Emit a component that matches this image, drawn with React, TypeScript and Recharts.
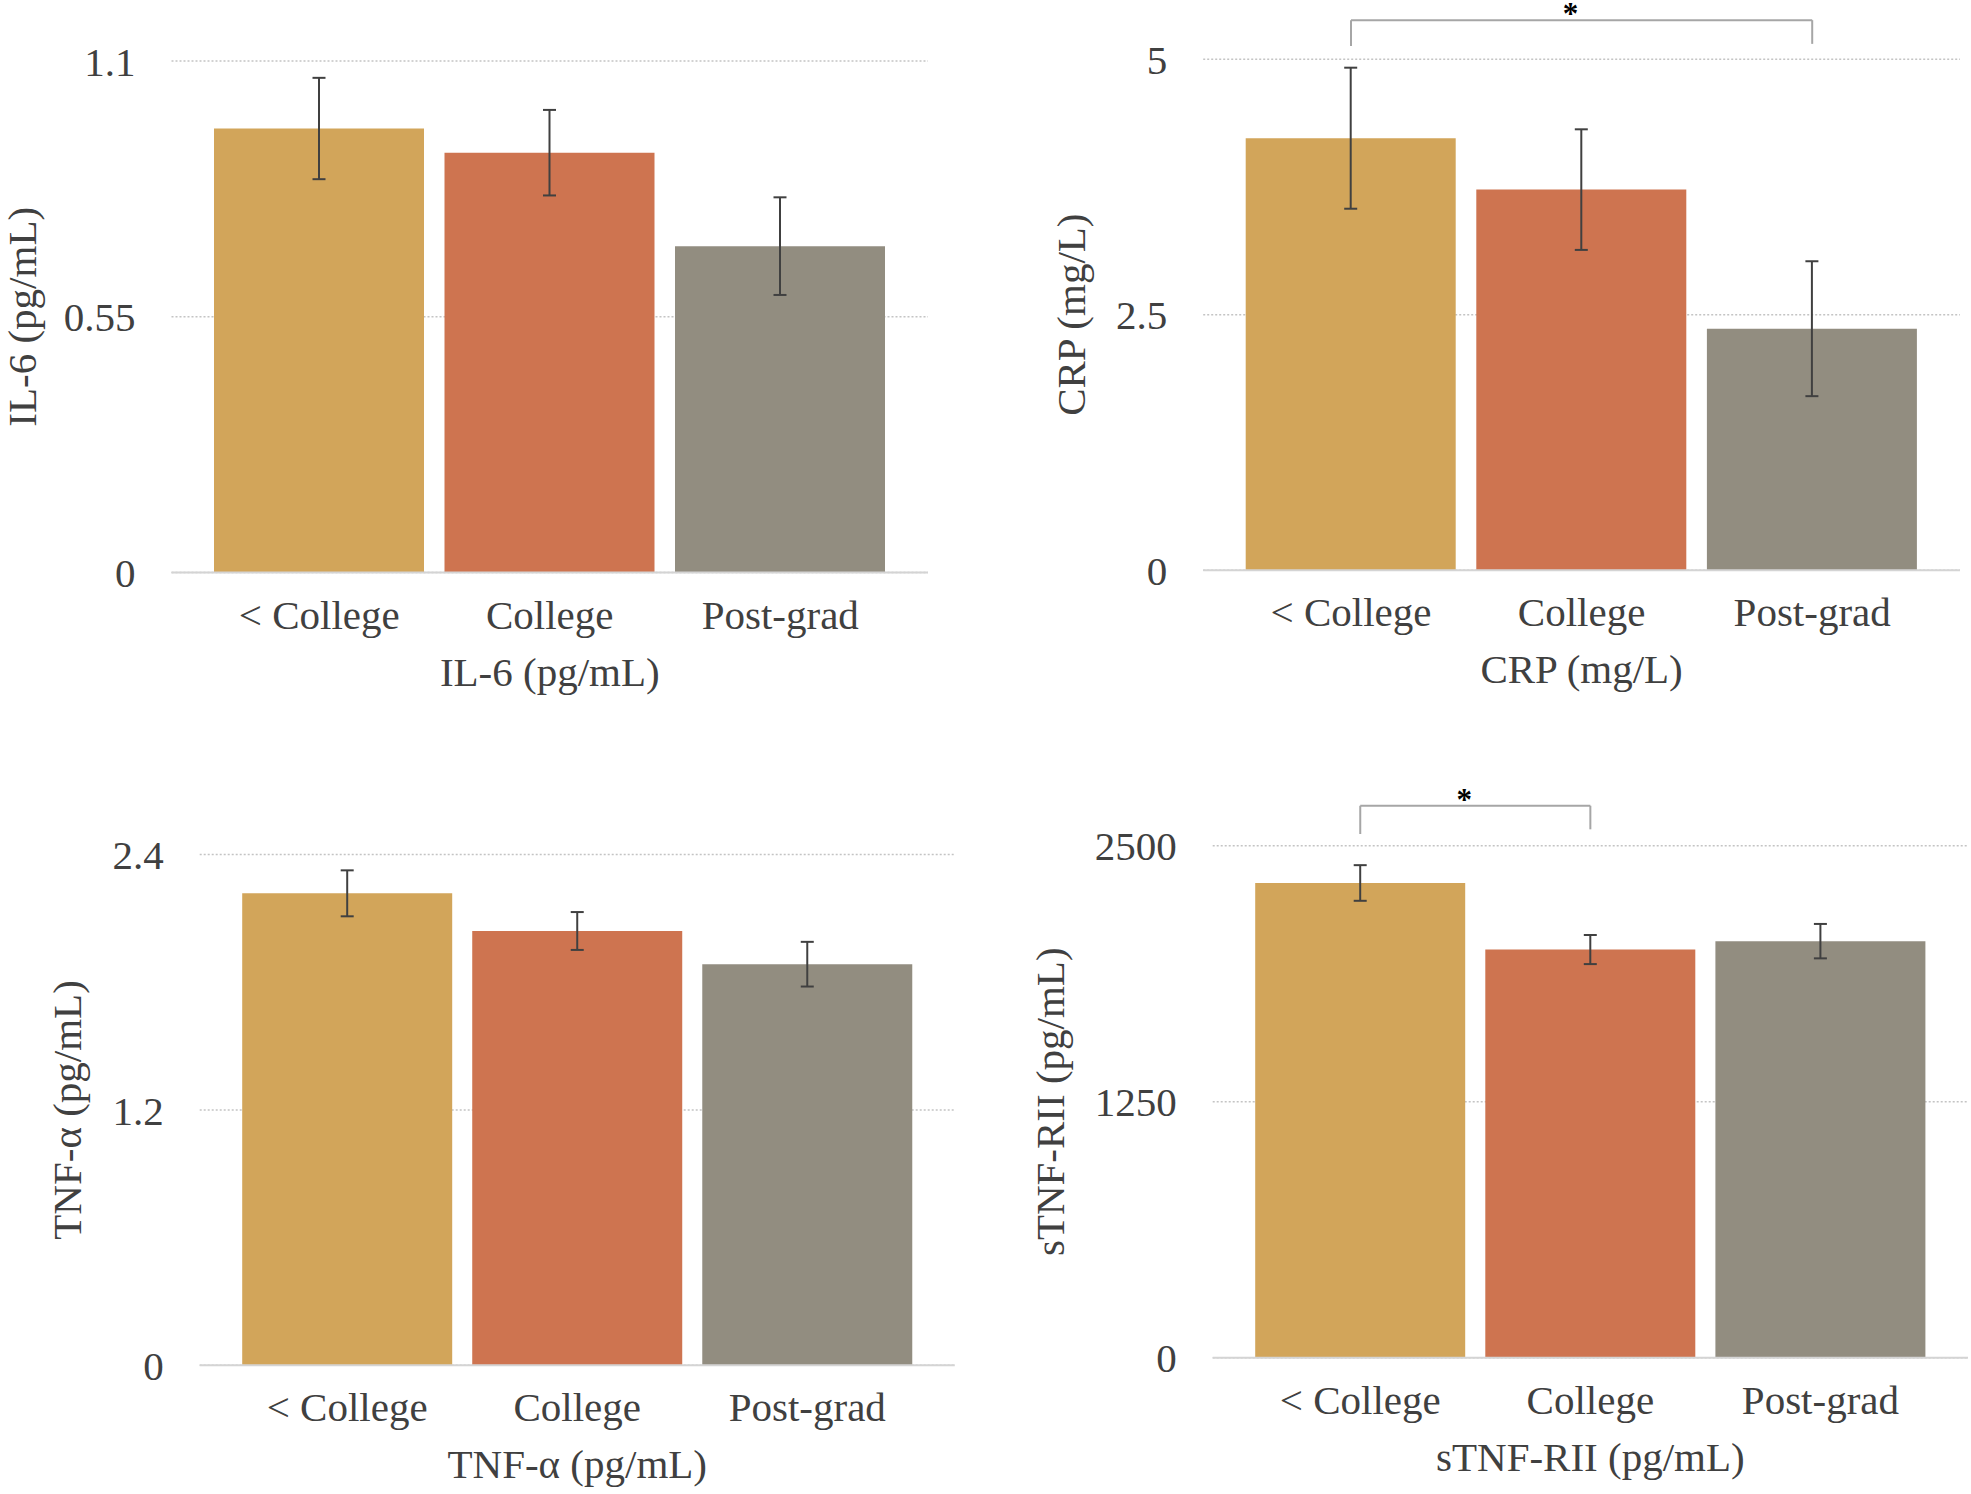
import React from 'react';
import { BarChart, Bar, XAxis, YAxis, CartesianGrid, ErrorBar, Cell, ReferenceLine, Label } from 'recharts';

const categories = ['< College', 'College', 'Post-grad'];
const barColors = ['#D2A55A', '#CE7450', '#928D80'];

const il6Means = [0.955, 0.903, 0.702];
const il6Errors = [0.109, 0.092, 0.105];
const il6Ticks = [0, 0.55, 1.1];

const crpMeans = [4.227, 3.724, 2.363];
const crpErrors = [0.69, 0.59, 0.66];
const crpTicks = [0, 2.5, 5];

const tnfMeans = [2.218, 2.041, 1.885];
const tnfErrors = [0.108, 0.089, 0.105];
const tnfTicks = [0, 1.2, 2.4];

const stnfMeans = [2318, 1993, 2034];
const stnfErrors = [87, 71, 84];
const stnfTicks = [0, 1250, 2500];

const crpBracket = { from: '< College', to: 'Post-grad', top: 5.382, leftEnd: 5.13, rightEnd: 5.15 };
const stnfBracket = { from: '< College', to: 'College', top: 2695, leftEnd: 2557, rightEnd: 2580 };

const FONT = "'Liberation Serif', 'Times New Roman', serif";
const TEXT = '#404040';
const FS = 41;

const StarLabel = (props: any) => {
  const vb = props.viewBox || {};
  const cx = (vb.x || 0) + (vb.width || 0) / 2 - 11;
  return (
    <text x={cx} y={(vb.y || 0) + 4} textAnchor="middle" fontFamily={FONT} fontSize={31} fontWeight="bold" fill="#000">
      *
    </text>
  );
};

type Box = { left: number; top: number; w: number; h: number };
type Plot = { l: number; r: number; t: number; b: number };

function Panel(props: {
  box: Box;
  plot: Plot;
  title: string;
  means: number[];
  errors: number[];
  ticks: number[];
  yLabelOffset: number;
  bracket?: { from: string; to: string; top: number; leftEnd: number; rightEnd: number };
}) {
  const { box, plot, title, means, errors, ticks, yLabelOffset, bracket } = props;
  const data = categories.map((c, i) => ({ name: c, value: means[i], err: errors[i] }));
  const margin = { top: plot.t - box.top, left: 0, right: box.left + box.w - plot.r, bottom: 0 };
  const yWidth = plot.l - box.left;
  const xHeight = box.top + box.h - plot.b;
  const bracketLines = bracket
    ? [
        <ReferenceLine
          key="bh"
          segment={[{ x: bracket.from, y: bracket.top }, { x: bracket.to, y: bracket.top }]}
          stroke="#a6a6a6"
          strokeWidth={2}
          ifOverflow="visible"
          label={StarLabel}
        />,
        <ReferenceLine
          key="bl"
          segment={[{ x: bracket.from, y: bracket.top }, { x: bracket.from, y: bracket.leftEnd }]}
          stroke="#a6a6a6"
          strokeWidth={2}
          ifOverflow="visible"
        />,
        <ReferenceLine
          key="br"
          segment={[{ x: bracket.to, y: bracket.top }, { x: bracket.to, y: bracket.rightEnd }]}
          stroke="#a6a6a6"
          strokeWidth={2}
          ifOverflow="visible"
        />,
      ]
    : [];
  return (
    <div style={{ position: 'absolute', left: box.left, top: box.top, width: box.w, height: box.h }}>
      <BarChart width={box.w} height={box.h} data={data} margin={margin} barSize={210}>
        <CartesianGrid vertical={false} stroke="#c4c4c4" strokeDasharray="2 2" strokeWidth={1.5} />
        <XAxis
          dataKey="name"
          height={xHeight}
          padding={{ left: 32.5, right: 32.5 }}
          tickLine={false}
          tickSize={6}
          tickMargin={21}
          interval={0}
          axisLine={{ stroke: '#d4d4d4', strokeWidth: 2 }}
          tick={{ fill: TEXT, fontSize: FS, fontFamily: FONT }}
        >
          <Label value={title} position="insideTop" offset={84} fill={TEXT} fontSize={FS} fontFamily={FONT} />
        </XAxis>
        <YAxis
          type="number"
          domain={[0, ticks[ticks.length - 1]]}
          ticks={ticks}
          width={yWidth}
          axisLine={false}
          tickLine={false}
          tickSize={6}
          tickMargin={30}
          tick={{ fill: TEXT, fontSize: FS, fontFamily: FONT }}
        >
          <Label
            value={title}
            angle={-90}
            position="insideLeft"
            offset={yLabelOffset}
            fill={TEXT}
            fontSize={FS}
            fontFamily={FONT}
            style={{ textAnchor: 'middle' }}
          />
        </YAxis>
        <Bar dataKey="value" isAnimationActive={false}>
          {data.map((d, i) => (
            <Cell key={d.name} fill={barColors[i]} />
          ))}
          <ErrorBar dataKey="err" width={6.5} stroke="#404040" strokeWidth={2} direction="y" />
        </Bar>
        {bracketLines}
      </BarChart>
    </div>
  );
}

export default function App() {
  return (
    <div style={{ position: 'absolute', left: 0, top: 0, width: 1971, height: 1494, background: '#fff', fontFamily: FONT }}>
      <Panel
        box={{ left: 0, top: 0, w: 985, h: 747 }}
        plot={{ l: 171.5, r: 928, t: 61.1, b: 572.5 }}
        title="IL-6 (pg/mL)"
        means={il6Means}
        errors={il6Errors}
        ticks={il6Ticks}
        yLabelOffset={21}
      />
      <Panel
        box={{ left: 985, top: 0, w: 986, h: 747 }}
        plot={{ l: 1203.2, r: 1960, t: 59.2, b: 570.2 }}
        title="CRP (mg/L)"
        means={crpMeans}
        errors={crpErrors}
        ticks={crpTicks}
        yLabelOffset={85}
        bracket={crpBracket}
      />
      <Panel
        box={{ left: 0, top: 747, w: 985, h: 747 }}
        plot={{ l: 199.7, r: 954.8, t: 854.6, b: 1365.3 }}
        title="TNF-α (pg/mL)"
        means={tnfMeans}
        errors={tnfErrors}
        ticks={tnfTicks}
        yLabelOffset={66}
      />
      <Panel
        box={{ left: 985, top: 747, w: 986, h: 747 }}
        plot={{ l: 1212.7, r: 1968, t: 845.7, b: 1357.8 }}
        title="sTNF-RII (pg/mL)"
        means={stnfMeans}
        errors={stnfErrors}
        ticks={stnfTicks}
        yLabelOffset={64}
        bracket={stnfBracket}
      />
    </div>
  );
}
